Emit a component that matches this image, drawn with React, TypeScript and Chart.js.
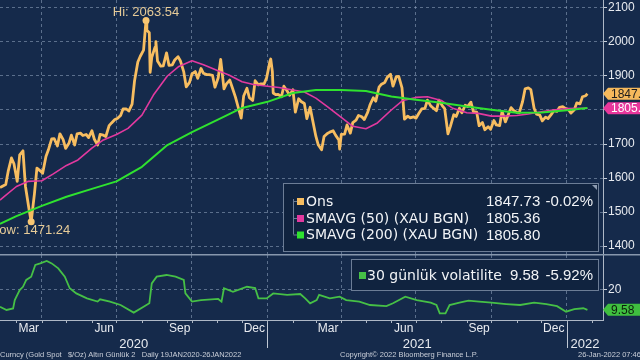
import React, { useEffect, useRef } from "react";
import { Chart, registerables } from "chart.js";

Chart.register(...registerables);

// ---------------- data ----------------
const goldDates = [
  "2020-02-10","2020-02-13","2020-02-17","2020-02-20","2020-02-24","2020-02-27","2020-03-02","2020-03-05","2020-03-09","2020-03-12",
  "2020-03-16","2020-03-19","2020-03-23","2020-03-26","2020-03-30","2020-04-02","2020-04-06","2020-04-09","2020-04-13","2020-04-16",
  "2020-04-20","2020-04-23","2020-04-27","2020-04-30","2020-05-04","2020-05-07","2020-05-11","2020-05-14","2020-05-18","2020-05-21",
  "2020-05-25","2020-05-28","2020-06-01","2020-06-04","2020-06-08","2020-06-11","2020-06-15","2020-06-18","2020-06-22","2020-06-25",
  "2020-06-29","2020-07-02","2020-07-06","2020-07-09","2020-07-13","2020-07-16","2020-07-20","2020-07-23","2020-07-27","2020-07-30",
  "2020-08-03","2020-08-06","2020-08-07","2020-08-10","2020-08-11","2020-08-13","2020-08-17","2020-08-18","2020-08-20","2020-08-24",
  "2020-08-27","2020-08-31","2020-09-03","2020-09-07","2020-09-10","2020-09-14","2020-09-17","2020-09-21","2020-09-24","2020-09-28",
  "2020-10-01","2020-10-05","2020-10-08","2020-10-12","2020-10-15","2020-10-19","2020-10-22","2020-10-26","2020-10-29","2020-11-02",
  "2020-11-05","2020-11-09","2020-11-12","2020-11-16","2020-11-19","2020-11-23","2020-11-26","2020-11-30","2020-12-03","2020-12-07",
  "2020-12-10","2020-12-14","2020-12-17","2020-12-21","2020-12-24","2020-12-28","2020-12-31",
  "2021-01-04","2021-01-05","2021-01-07","2021-01-08","2021-01-11","2021-01-14","2021-01-18","2021-01-21","2021-01-25","2021-01-28",
  "2021-02-01","2021-02-04","2021-02-08","2021-02-11","2021-02-15","2021-02-18","2021-02-22","2021-02-25","2021-03-01","2021-03-04",
  "2021-03-08","2021-03-11","2021-03-15","2021-03-18","2021-03-22","2021-03-25","2021-03-29","2021-03-30","2021-04-01","2021-04-05",
  "2021-04-08","2021-04-12","2021-04-15","2021-04-19","2021-04-22","2021-04-26","2021-04-29","2021-05-03","2021-05-06","2021-05-10",
  "2021-05-13","2021-05-17","2021-05-20","2021-05-24","2021-05-27","2021-05-31","2021-06-03","2021-06-07","2021-06-10","2021-06-14",
  "2021-06-17","2021-06-21","2021-06-24","2021-06-28","2021-07-01","2021-07-05","2021-07-08","2021-07-12","2021-07-15","2021-07-19",
  "2021-07-22","2021-07-26","2021-07-29","2021-08-02","2021-08-05","2021-08-09","2021-08-12","2021-08-16","2021-08-19","2021-08-23",
  "2021-08-26","2021-08-30","2021-09-02","2021-09-06","2021-09-09","2021-09-13","2021-09-16","2021-09-20","2021-09-23","2021-09-27",
  "2021-09-30","2021-10-04","2021-10-07","2021-10-11","2021-10-14","2021-10-18","2021-10-21","2021-10-25","2021-10-28","2021-11-01",
  "2021-11-04","2021-11-08","2021-11-11","2021-11-15","2021-11-18","2021-11-22","2021-11-25","2021-11-29","2021-12-02","2021-12-06",
  "2021-12-09","2021-12-13","2021-12-16","2021-12-20","2021-12-23","2021-12-27","2021-12-30",
  "2022-01-03","2022-01-06","2022-01-10","2022-01-13","2022-01-17","2022-01-20","2022-01-24","2022-01-26",
];
const goldValues = [
  1572,1576,1581,1620,1659,1642,1590,1668,1680,1576,
  1514,1471.24,1554,1629,1621,1614,1663,1683,1715,1716,
  1694,1730,1713,1687,1702,1726,1697,1730,1732,1725,
  1728,1719,1739,1714,1697,1728,1726,1722,1754,1762,
  1772,1775,1784,1803,1803,1797,1817,1886,1941,1958,
  1976,2063.54,2035,2027,1911,1955,1985,2001,1944,1929,
  1930,1968,1931,1933,1947,1957,1944,1912,1868,1881,
  1906,1913,1893,1922,1908,1904,1904,1902,1867,1895,
  1949,1862,1877,1888,1867,1838,1811,1776,1841,1864,
  1836,1828,1886,1874,1877,1877,1895,
  1943,1950,1913,1850,1845,1846,1839,1870,1856,1843,
  1860,1794,1833,1825,1819,1775,1808,1771,1723,1697,
  1683,1722,1731,1735,1739,1726,1712,1685,1728,1729,
  1756,1732,1763,1770,1784,1780,1772,1792,1815,1836,
  1826,1867,1876,1881,1896,1905,1870,1898,1899,1865,
  1773,1782,1777,1780,1776,1792,1803,1805,1829,1812,
  1806,1798,1829,1813,1804,1730,1752,1786,1781,1805,
  1792,1814,1810,1823,1795,1794,1754,1763,1742,1751,
  1743,1769,1756,1754,1796,1765,1783,1807,1799,1793,
  1792,1825,1862,1865,1860,1805,1788,1785,1768,1779,
  1775,1787,1798,1796,1808,1810,1805,
  1801,1791,1801,1821,1818,1839,1842,1847.73,
];

const sma50Dates = [
  "2020-02-10","2020-02-15","2020-03-01","2020-03-15","2020-04-01","2020-04-15","2020-05-01","2020-05-15","2020-06-01","2020-06-15",
  "2020-07-01","2020-07-15","2020-08-01","2020-08-15","2020-09-01","2020-09-15","2020-10-01","2020-10-15","2020-11-01","2020-11-15",
  "2020-12-01","2020-12-15","2021-01-01","2021-01-15","2021-02-01","2021-02-15","2021-03-01","2021-03-15","2021-04-01","2021-04-15",
  "2021-05-01","2021-05-15","2021-06-01","2021-06-15","2021-07-01","2021-07-15","2021-08-01","2021-08-15","2021-09-01","2021-09-15",
  "2021-10-01","2021-10-15","2021-11-01","2021-11-15","2021-12-01","2021-12-15","2022-01-01","2022-01-15","2022-01-26",
];
const sma50Values = [
  1535,1545,1575,1590,1592,1612,1637,1653,1688,1712,
  1728,1746,1785,1844,1900,1928,1945,1933,1916,1903,
  1883,1875,1870,1866,1859,1853,1835,1810,1778,1752,
  1745,1762,1800,1828,1837,1839,1828,1805,1792,1790,
  1782,1782,1784,1788,1795,1800,1804,1805,1805.36,
];

const sma200Dates = [
  "2020-02-10","2020-03-01","2020-04-01","2020-05-01","2020-06-01","2020-07-01","2020-08-01","2020-09-01","2020-10-01","2020-11-01",
  "2020-12-01","2021-01-01","2021-02-01","2021-03-01","2021-04-01","2021-05-01","2021-06-01","2021-07-01","2021-08-01","2021-09-01",
  "2021-10-01","2021-11-01","2021-12-01","2022-01-01","2022-01-26",
];
const sma200Values = [
  1465,1488,1518,1545,1568,1590,1633,1697,1735,1771,
  1806,1824,1850,1859,1859,1856,1840,1830,1821,1810,
  1801,1792,1793,1799,1805.80,
];

const volDates = [
  "2020-02-10","2020-02-18","2020-02-26","2020-02-28","2020-03-05","2020-03-09","2020-03-13","2020-03-19","2020-03-24","2020-03-30",
  "2020-04-07","2020-04-13","2020-04-21","2020-04-29","2020-05-05","2020-05-13","2020-05-26","2020-06-08","2020-06-11","2020-06-23",
  "2020-07-06","2020-07-22","2020-08-03","2020-08-10","2020-08-13","2020-08-19","2020-08-31","2020-09-11","2020-09-21","2020-09-23",
  "2020-10-01","2020-10-12","2020-11-02","2020-11-06","2020-11-09","2020-11-20","2020-12-07","2020-12-17","2020-12-21","2020-12-31",
  "2021-01-08","2021-01-25","2021-02-10","2021-02-16","2021-02-22","2021-03-02","2021-03-05","2021-03-18","2021-03-30","2021-04-07",
  "2021-04-23","2021-05-06","2021-05-26","2021-06-03","2021-06-18","2021-07-02","2021-07-19","2021-07-26","2021-07-30","2021-08-06",
  "2021-08-11","2021-08-23","2021-09-03","2021-09-16","2021-10-01","2021-10-19","2021-11-05","2021-11-22","2021-12-07","2021-12-20",
  "2021-12-31","2022-01-10","2022-01-21","2022-01-26",
];
const volValues = [
  11.2,9.5,10.3,14.7,20.0,21.7,25.3,27.0,33.2,34.0,
  35.3,34.0,31.4,27.0,20.9,18.2,15.6,13.9,15.1,13.9,
  12.1,8.1,11.2,13.0,23.5,27.0,27.9,27.0,25.3,18.2,
  13.9,14.7,15.3,13.9,20.9,19.0,21.7,21.0,15.6,15.6,
  18.2,17.4,17.9,15.6,13.0,14.7,17.4,15.6,16.5,14.7,
  13.9,12.1,11.5,13.0,16.5,14.7,13.3,12.1,7.7,7.7,
  12.1,13.3,14.4,13.9,13.3,12.6,12.1,13.3,12.6,11.5,
  8.6,9.9,10.4,9.58,
];

const priceTicks = [1400, 1500, 1600, 1700, 1800, 1900, 2000, 2100];
const volTicks = [20];
const gridDates = ["2020-04-01","2020-07-01","2020-10-01","2021-01-01","2021-04-01","2021-07-01","2021-10-01","2022-01-01"];
const monthLabels = ["Mar","Jun","Sep","Dec","Mar","Jun","Sep","Dec"];
const monthLabelDates = ["2020-03-16","2020-06-16","2020-09-16","2020-12-16","2021-03-16","2021-06-16","2021-09-16","2021-12-16"];
const monthStarts = [
  "2020-03-01","2020-04-01","2020-05-01","2020-06-01","2020-07-01","2020-08-01","2020-09-01","2020-10-01","2020-11-01","2020-12-01",
  "2021-01-01","2021-02-01","2021-03-01","2021-04-01","2021-05-01","2021-06-01","2021-07-01","2021-08-01","2021-09-01","2021-10-01",
  "2021-11-01","2021-12-01","2022-01-01","2022-02-01",
];
const yearLabels = ["2020", "2021", "2022"];
const yearBounds = ["2020-02-10", "2021-01-01", "2022-01-01", "2022-02-14"];
const axisStart = "2020-02-10";
const axisEnd = "2022-02-14";
const priceRange = [1376.5, 2123.5];
const volRange = [4.21, 38.42];

const hiDate = "2020-08-06";
const hiValue = 2063.54;
const lowDate = "2020-03-19";
const lowValue = 1471.24;

const legendNames = ["Ons", "SMAVG (50) (XAU BGN)", "SMAVG (200) (XAU BGN)"];
const goldChange = "-0.02%";
const volName = "30 günlük volatilite";
const volChange = "-5.92%";
const footerLeft = "Curncy (Gold Spot   $/Oz) Altın Günlük 2   Daily 19JAN2020-26JAN2022";
const footerMid = "Copyright\u00A9 2022 Bloomberg Finance L.P.";
const footerRight = "26-Jan-2022 07:46:21";

// ---------------- style ----------------
const BG = "#152a4b";
const LEGEND_BG = "#10233f";
const GRID = "rgba(150,168,195,0.55)";
const AXIS_LINE = "#aeb8c6";
const AXIS_TEXT = "#e8ebf0";
const GOLD = "#f7bd60";
const MAGENTA = "#e2399f";
const GREEN = "#2fe22f";
const VOL = "#46c046";
const FONT = "'Liberation Sans', Arial, sans-serif";
const LFONT = "'DejaVu Sans', sans-serif";

const ORIGIN = Date.UTC(2020, 1, 10);
function day(s: string): number {
  const [y, m, d] = s.split("-").map(Number);
  return (Date.UTC(y, m - 1, d) - ORIGIN) / 86400000;
}
function pts(dates: string[], values: number[]) {
  return dates.map((d, i) => ({ x: day(d), y: values[i] }));
}

function tag(ctx: CanvasRenderingContext2D, x0: number, yc: number, text: string, fill: string, color: string) {
  const h = 12;
  ctx.beginPath();
  ctx.moveTo(x0, yc);
  ctx.lineTo(x0 + 5, yc - h / 2);
  ctx.lineTo(642, yc - h / 2);
  ctx.lineTo(642, yc + h / 2);
  ctx.lineTo(x0 + 5, yc + h / 2);
  ctx.closePath();
  ctx.fillStyle = fill;
  ctx.fill();
  ctx.fillStyle = color;
  ctx.font = `12px ${FONT}`;
  ctx.textAlign = "left";
  ctx.textBaseline = "middle";
  ctx.fillText(text, x0 + 8, yc + 0.5);
}

const topOverlay = {
  id: "topOverlay",
  afterDraw(chart: any) {
    const { ctx } = chart;
    const x = chart.scales.x;
    const y = chart.scales.y;
    ctx.save();
    // hi / low markers
    ctx.font = `13px ${FONT}`;
    ctx.textAlign = "center";
    ctx.textBaseline = "middle";
    const hx = x.getPixelForValue(day(hiDate));
    const hy = y.getPixelForValue(hiValue);
    ctx.fillStyle = "#f8c672";
    ctx.beginPath(); ctx.arc(hx, hy, 3.5, 0, Math.PI * 2); ctx.fill();
    ctx.fillStyle = "#e6cb98";
    ctx.fillText("Hi: " + hiValue.toFixed(2), hx, hy - 8);
    const lx = x.getPixelForValue(day(lowDate));
    const ly = y.getPixelForValue(lowValue);
    ctx.fillStyle = "#f8c672";
    ctx.beginPath(); ctx.arc(lx, ly, 3.5, 0, Math.PI * 2); ctx.fill();
    ctx.fillStyle = "#e6cb98";
    ctx.fillText("Low: " + lowValue.toFixed(2), lx, ly + 9);

    // legend box
    const bx = 283.5, by = 183.5, bw = 315, bh = 68;
    ctx.fillStyle = LEGEND_BG;
    ctx.fillRect(bx, by, bw, bh);
    ctx.strokeStyle = "#6c7d96";
    ctx.lineWidth = 1;
    ctx.strokeRect(bx, by, bw, bh);
    ctx.fillStyle = "#8b9ab0";
    ctx.beginPath(); ctx.moveTo(592, 185); ctx.lineTo(597, 185); ctx.lineTo(597, 190); ctx.closePath(); ctx.fill();
    const rowY = [201, 218, 234.5];
    const colors = [GOLD, MAGENTA, GREEN];
    const vals = [goldValues[goldValues.length - 1], sma50Values[sma50Values.length - 1], sma200Values[sma200Values.length - 1]];
    ctx.strokeStyle = "#6c7d96";
    ctx.beginPath(); ctx.moveTo(293.5, 199); ctx.lineTo(293.5, rowY[2]); ctx.stroke();
    ctx.textBaseline = "middle";
    legendNames.forEach((n, i) => {
      ctx.strokeStyle = "#6c7d96";
      ctx.beginPath(); ctx.moveTo(293.5, rowY[i] + 0.5); ctx.lineTo(297, rowY[i] + 0.5); ctx.stroke();
      ctx.fillStyle = colors[i];
      ctx.fillRect(297, rowY[i] - 3, 7, 7);
      ctx.fillStyle = "#f2f4f7";
      ctx.textAlign = "left";
      ctx.font = `14px ${LFONT}`;
      ctx.fillText(n, 306, rowY[i] + 1);
      ctx.font = `15px ${FONT}`;
      ctx.fillText(vals[i].toFixed(2), 486, rowY[i] + 1);
    });
    ctx.textAlign = "right";
    ctx.font = `15px ${FONT}`;
    ctx.fillText(goldChange, 593, rowY[0] + 1);

    // right value tags
    const x0 = y.left;
    tag(ctx, x0, y.getPixelForValue(vals[0]), vals[0].toFixed(2), "#f6b95c", "#1c1c1c");
    tag(ctx, x0, y.getPixelForValue(vals[1]), vals[1].toFixed(2), "#e8379c", "#ffffff");
    ctx.restore();
  },
};

const bottomOverlay = {
  id: "bottomOverlay",
  afterDraw(chart: any) {
    const { ctx } = chart;
    const x = chart.scales.x;
    const y = chart.scales.y;
    const area = chart.chartArea;
    ctx.save();
    // separator between panels
    ctx.strokeStyle = "#8797ad";
    ctx.lineWidth = 1.5;
    ctx.beginPath(); ctx.moveTo(0, 0.75); ctx.lineTo(640, 0.75); ctx.stroke();

    // vol legend box
    ctx.lineWidth = 1;
    ctx.fillStyle = LEGEND_BG;
    ctx.fillRect(351.5, 5.5, 247, 31);
    ctx.strokeStyle = "#6c7d96";
    ctx.strokeRect(351.5, 5.5, 247, 31);
    ctx.fillStyle = VOL;
    ctx.fillRect(359, 18, 7, 7);
    ctx.fillStyle = "#f2f4f7";
    ctx.textBaseline = "middle";
    ctx.textAlign = "left";
    const last = volValues[volValues.length - 1];
    ctx.font = `14px ${LFONT}`;
    ctx.fillText(volName, 367, 22);
    ctx.font = `15px ${FONT}`;
    ctx.fillText(last.toFixed(2), 510, 22);
    ctx.textAlign = "right";
    ctx.fillText(volChange, 593, 22);

    // vol value tag
    tag(ctx, y.left, y.getPixelForValue(last), last.toFixed(2), "#3fbf3f", "#0c1f0c");

    // month ticks
    ctx.strokeStyle = AXIS_LINE;
    ctx.lineWidth = 1;
    monthStarts.forEach((d) => {
      const px = Math.round(x.getPixelForValue(day(d))) + 0.5;
      if (px > area.right) return;
      ctx.beginPath(); ctx.moveTo(px, area.bottom); ctx.lineTo(px, area.bottom + 3); ctx.stroke();
    });
    // month labels
    ctx.fillStyle = AXIS_TEXT;
    ctx.font = `12px ${FONT}`;
    ctx.textAlign = "center";
    ctx.textBaseline = "middle";
    monthLabels.forEach((m, i) => {
      ctx.fillText(m, x.getPixelForValue(day(monthLabelDates[i])), area.bottom + 9);
    });
    // year labels & separators
    ctx.font = `13px ${FONT}`;
    yearLabels.forEach((yl, i) => {
      const a = x.getPixelForValue(day(yearBounds[i]));
      const b = x.getPixelForValue(day(yearBounds[i + 1]));
      ctx.fillText(yl, (a + b) / 2, area.bottom + 24);
    });
    ctx.strokeStyle = "#c0c8d4";
    [yearBounds[1], yearBounds[2]].forEach((d) => {
      const px = Math.round(x.getPixelForValue(day(d))) + 0.5;
      ctx.beginPath(); ctx.moveTo(px, area.bottom + 3); ctx.lineTo(px, area.bottom + 28); ctx.stroke();
    });
    // footer
    ctx.fillStyle = "#c9ced8";
    ctx.font = `7.5px ${FONT}`;
    ctx.textAlign = "left";
    ctx.fillText(footerLeft, 0, 101);
    ctx.fillText(footerMid, 340, 101);
    ctx.fillText(footerRight, 578, 101);
    ctx.restore();
  },
};

export default function App() {
  const topRef = useRef<HTMLCanvasElement>(null);
  const botRef = useRef<HTMLCanvasElement>(null);

  useEffect(() => {
    const xBase = (withBorder: boolean) => ({
      type: "linear" as const,
      min: day(axisStart),
      max: day(axisEnd),
      ticks: { display: false },
      grid: { color: GRID, drawTicks: false, lineWidth: 1 },
      border: { display: withBorder, color: AXIS_LINE, dash: [3, 3] },
      afterBuildTicks: (s: any) => { s.ticks = gridDates.map((d) => ({ value: day(d) })); },
      afterFit: (s: any) => { s.height = 0; s.paddingLeft = 0; s.paddingRight = 0; },
    });
    const yBase = (range: number[], ticks: number[]) => ({
      position: "right" as const,
      min: range[0],
      max: range[1],
      afterBuildTicks: (s: any) => { s.ticks = ticks.map((v) => ({ value: v })); },
      ticks: {
        color: AXIS_TEXT,
        font: { family: FONT, size: 12 },
        padding: 1,
        callback: (v: any) => String(v),
      },
      grid: { color: GRID, drawTicks: true, tickLength: 4, tickColor: "#c9d1dc", tickBorderDash: [] },
      border: { display: true, color: AXIS_LINE, dash: [3, 3] },
      afterFit: (s: any) => { s.width = 37; s.paddingTop = 0; s.paddingBottom = 0; },
    });

    const top = new Chart(topRef.current!, {
      type: "line",
      data: {
        datasets: [
          { data: pts(sma200Dates, sma200Values), borderColor: GREEN, borderWidth: 2, order: 1 },
          { data: pts(sma50Dates, sma50Values), borderColor: MAGENTA, borderWidth: 1.6, order: 2 },
          { data: pts(goldDates, goldValues), borderColor: GOLD, borderWidth: 2.8, order: 3 },
        ],
      },
      options: {
        responsive: false,
        animation: false,
        events: [],
        layout: { padding: 0 },
        plugins: { legend: { display: false }, tooltip: { enabled: false } },
        elements: { point: { radius: 0 }, line: { tension: 0, borderJoinStyle: "round" } },
        scales: { x: xBase(false), y: yBase(priceRange, priceTicks) },
      } as any,
      plugins: [topOverlay],
    });

    const bottom = new Chart(botRef.current!, {
      type: "line",
      data: {
        datasets: [{ data: pts(volDates, volValues), borderColor: VOL, borderWidth: 1.8 }],
      },
      options: {
        responsive: false,
        animation: false,
        events: [],
        layout: { padding: { top: 1, bottom: 40, left: 0, right: 0 } },
        plugins: { legend: { display: false }, tooltip: { enabled: false } },
        elements: { point: { radius: 0 }, line: { tension: 0 } },
        scales: { x: xBase(true), y: yBase(volRange, volTicks) },
      } as any,
      plugins: [bottomOverlay],
    });

    return () => {
      top.destroy();
      bottom.destroy();
    };
  }, []);

  return (
    <div style={{ position: "fixed", left: 0, top: 0, width: 640, height: 360, background: BG, overflow: "hidden" }}>
      <canvas ref={topRef} width={640} height={254} style={{ position: "absolute", left: 0, top: 0, width: 640, height: 254 }} />
      <canvas ref={botRef} width={640} height={106} style={{ position: "absolute", left: 0, top: 254, width: 640, height: 106 }} />
    </div>
  );
}
